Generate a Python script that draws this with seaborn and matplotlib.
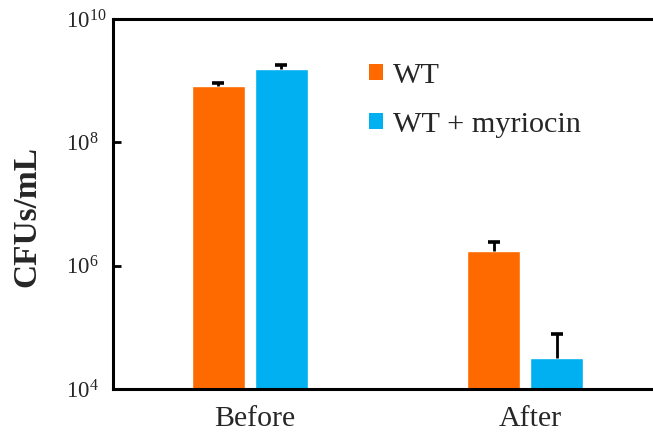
import matplotlib
matplotlib.use("Agg")
import matplotlib.pyplot as plt
import matplotlib.transforms as mtransforms
import seaborn as sns
import pandas as pd
import numpy as np
from matplotlib.patches import Patch
from matplotlib.ticker import FixedLocator, FixedFormatter, NullLocator

# ---- data ----
phases = ["Before", "After"]
strains = ["WT", "WT + myriocin"]
wt_values = [8.2e8, 1.71e6]
wt_upper = [9.2e8, 2.4e6]
myr_values = [1.55e9, 3.15e4]
myr_upper = [1.8e9, 7.8e4]
ytick_values = [1e4, 1e6, 1e8, 1e10]
ytick_labels = [r"$\mathregular{10^{4}}$", r"$\mathregular{10^{6}}$",
                r"$\mathregular{10^{8}}$", r"$\mathregular{10^{10}}$"]
colors = ["#FF6A00", "#00B0F0"]

df = pd.DataFrame({
    "phase": phases * 2,
    "strain": [strains[0]] * 2 + [strains[1]] * 2,
    "cfu": wt_values + myr_values,
})

sns.set_style("white")
plt.rcParams["font.family"] = ["Liberation Serif", "DejaVu Serif"]
plt.rcParams["mathtext.fontset"] = "custom"
plt.rcParams["mathtext.rm"] = "Liberation Serif"
plt.rcParams["mathtext.it"] = "Liberation Serif:italic"
plt.rcParams["mathtext.bf"] = "Liberation Serif:bold"

fig = plt.figure(figsize=(6.53, 4.33), dpi=100)
ax = fig.add_axes([113 / 653, 1 - 389 / 433, 540 / 653, 370 / 433])

sns.barplot(data=df, x="phase", y="cfu", hue="strain", order=phases,
            hue_order=strains, palette=colors, width=0.458, gap=0.157,
            errorbar=None, saturation=1, ax=ax, legend=False)
ax.set_yscale("log")
ax.set_ylim(1e4, 1e10)
ax.set_xlim(-0.498, 1.465)

bar_conts = list(ax.containers)
for cont in bar_conts:
    for b in cont:
        b.set_zorder(2)

# error bars (upper only)
uppers = [wt_upper, myr_upper]
vals = [wt_values, myr_values]
for cont, up, v in zip(bar_conts, uppers, vals):
    xs = [b.get_x() + b.get_width() / 2 for b in cont]
    v = np.array(v)
    up = np.array(up)
    eb = ax.errorbar(xs, v, yerr=[np.zeros_like(v), up - v], fmt="none",
                     ecolor="black", elinewidth=2, capsize=4, capthick=2.6,
                     zorder=3)
    for cap in eb[1]:
        yd = np.asarray(cap.get_ydata())
        if np.allclose(yd, v):
            cap.set_visible(False)

# axes styling
for s in ["left", "bottom", "top"]:
    ax.spines[s].set_visible(True)
    ax.spines[s].set_color("black")
    ax.spines[s].set_linewidth(2.2)
ax.spines["right"].set_visible(False)

ax.yaxis.set_major_locator(FixedLocator(ytick_values))
ax.yaxis.set_major_formatter(FixedFormatter(ytick_labels))
ax.yaxis.set_minor_locator(NullLocator())
ax.tick_params(axis="y", direction="in", length=6, width=2, pad=34,
               labelsize=16.5, left=True, color="black")
for lab in ax.get_yticklabels():
    lab.set_horizontalalignment("left")
ax.tick_params(axis="x", length=0, pad=12, labelsize=21.5)
offset = mtransforms.ScaledTranslation(5 / 100, 0, fig.dpi_scale_trans)
for lab in ax.get_xticklabels():
    lab.set_transform(lab.get_transform() + offset)
ax.set_xlabel("")
ax.set_ylabel("CFUs/mL", fontsize=24, fontweight="bold")
ax.yaxis.set_label_coords(-0.131, 0.466)

handles = [Patch(facecolor=c, edgecolor="none") for c in colors]
fig.legend(handles, strains, loc="upper left",
           bbox_to_anchor=(369 / 653, 1 - 63 / 433),
           bbox_transform=fig.transFigure, frameon=False, fontsize=21.8,
           handlelength=0.45, handleheight=0.45, handletextpad=0.35,
           labelspacing=0.75, borderpad=0, borderaxespad=0)

fig.savefig("out.png", dpi=100)
